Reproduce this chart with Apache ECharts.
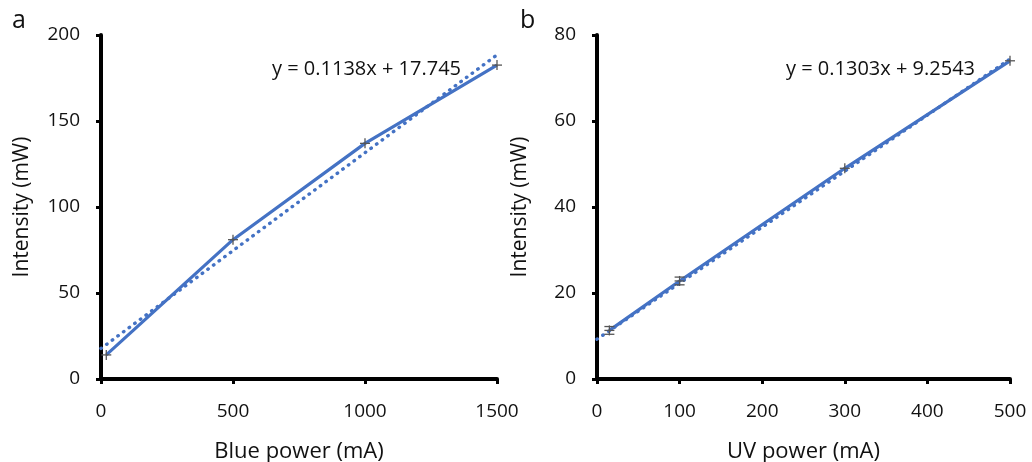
<!DOCTYPE html>
<html>
<head>
<meta charset="utf-8">
<script src="https://cdn.jsdelivr.net/npm/echarts@6/dist/echarts.min.js"></script>
<style>html,body{margin:0;padding:0;background:#fff;}#c{width:1032px;height:462px;}</style>
</head>
<body>
<div id="c"></div>
<script>
// ---- data ----
var blueX = [20, 500, 1000, 1500];
var blueY = [14, 81, 137, 182.5];
var blueErr = [0, 0, 0, 0];
var blueTrend = [[0, 17.745], [1500, 188.445]];
var blueEq = 'y = 0.1138x + 17.745';

var uvX = [15, 100, 300, 500];
var uvY = [11.3, 22.8, 49, 74];
var uvErr = [0.9, 0.9, 0, 0];
var uvTrend = [[0, 9.2543], [500, 74.4043]];
var uvEq = 'y = 0.1303x + 9.2543';

var panelLabels = ['a', 'b'];
var xNames = ['Blue power (mA)', 'UV power (mA)'];
var yName = 'Intensity (mW)';

var BLUE = '#4472C4';
var FONT = '"Open Sans", "Liberation Sans", sans-serif';

function pairs(xs, ys) { return xs.map(function (x, i) { return [x, ys[i]]; }); }
function triples(xs, ys, es) { return xs.map(function (x, i) { return [x, ys[i], es[i]]; }); }

function renderMark(params, api) {
  var x = api.value(0), y = api.value(1), e = api.value(2);
  var c = api.coord([x, y]);
  var style = { stroke: '#555', lineWidth: 1.3 };
  var ch = [];
  var h = 5;
  ch.push({ type: 'line', shape: { x1: c[0] - h, y1: c[1], x2: c[0] + h, y2: c[1] }, style: style });
  var top = c[1] - h, bot = c[1] + h;
  if (e > 0) {
    var pt = api.coord([x, y + e]), pb = api.coord([x, y - e]);
    top = Math.min(top, pt[1]); bot = Math.max(bot, pb[1]);
    ch.push({ type: 'line', shape: { x1: c[0] - h, y1: pt[1], x2: c[0] + h, y2: pt[1] }, style: style });
    ch.push({ type: 'line', shape: { x1: c[0] - h, y1: pb[1], x2: c[0] + h, y2: pb[1] }, style: style });
  }
  ch.push({ type: 'line', shape: { x1: c[0], y1: top, x2: c[0], y2: bot }, style: style });
  return { type: 'group', children: ch };
}

function plain(v) { return String(v); }

function ax(extra, labelMargin, nameSize) {
  return Object.assign({
    type: 'value',
    nameLocation: 'middle',
    axisLine: { show: true, lineStyle: { color: '#000', width: 4 } },
    axisTick: { show: true, inside: false, length: 5, lineStyle: { color: '#000', width: 3 } },
    splitLine: { show: false },
    axisLabel: { color: '#111', fontSize: 19, fontFamily: FONT, margin: labelMargin, formatter: plain },
    nameTextStyle: { color: '#111', fontSize: nameSize, fontFamily: FONT }
  }, extra);
}

var option = {
  animation: false,
  backgroundColor: '#fff',
  grid: [
    { left: 101, right: 535, top: 35, bottom: 83, containLabel: false, outerBoundsMode: 'none' },
    { left: 597, right: 22, top: 35, bottom: 83, containLabel: false, outerBoundsMode: 'none' }
  ],
  xAxis: [
    ax({ gridIndex: 0, min: 0, max: 1500, interval: 500, name: xNames[0], nameGap: 62 }, 23, 22),
    ax({ gridIndex: 1, min: 0, max: 500, interval: 100, name: xNames[1], nameGap: 62 }, 23, 22)
  ],
  yAxis: [
    ax({ gridIndex: 0, min: 0, max: 200, interval: 50, name: yName, nameGap: 68 }, 21, 21),
    ax({ gridIndex: 1, min: 0, max: 80, interval: 20, name: yName, nameGap: 66 }, 21, 21)
  ],
  graphic: [
    { type: 'text', left: 12, top: 8, style: { text: panelLabels[0], fontSize: 25, fontFamily: FONT, fill: '#111' } },
    { type: 'text', left: 520, top: 8, style: { text: panelLabels[1], fontSize: 25, fontFamily: FONT, fill: '#111' } },
    { type: 'text', left: 272, top: 59, style: { text: blueEq, fontSize: 20, fontFamily: FONT, fill: '#111' } },
    { type: 'text', left: 786, top: 59, style: { text: uvEq, fontSize: 20, fontFamily: FONT, fill: '#111' } }
  ],
  series: [
    { type: 'line', xAxisIndex: 0, yAxisIndex: 0, data: blueTrend, symbol: 'none', z: 2,
      lineStyle: { color: BLUE, width: 3.4, type: [0.5, 6.5], cap: 'round' } },
    { type: 'line', xAxisIndex: 0, yAxisIndex: 0, data: pairs(blueX, blueY), symbol: 'none', z: 3,
      lineStyle: { color: BLUE, width: 3.2 } },
    { type: 'custom', xAxisIndex: 0, yAxisIndex: 0, data: triples(blueX, blueY, blueErr), renderItem: renderMark, z: 4 },
    { type: 'line', xAxisIndex: 1, yAxisIndex: 1, data: uvTrend, symbol: 'none', z: 2,
      lineStyle: { color: BLUE, width: 3.4, type: [0.5, 6.5], cap: 'round' } },
    { type: 'line', xAxisIndex: 1, yAxisIndex: 1, data: pairs(uvX, uvY), symbol: 'none', z: 3,
      lineStyle: { color: BLUE, width: 3.2 } },
    { type: 'custom', xAxisIndex: 1, yAxisIndex: 1, data: triples(uvX, uvY, uvErr), renderItem: renderMark, z: 4 }
  ]
};
var chart = echarts.init(document.getElementById('c'), null, { renderer: 'canvas' });
chart.setOption(option);
</script>
</body>
</html>
